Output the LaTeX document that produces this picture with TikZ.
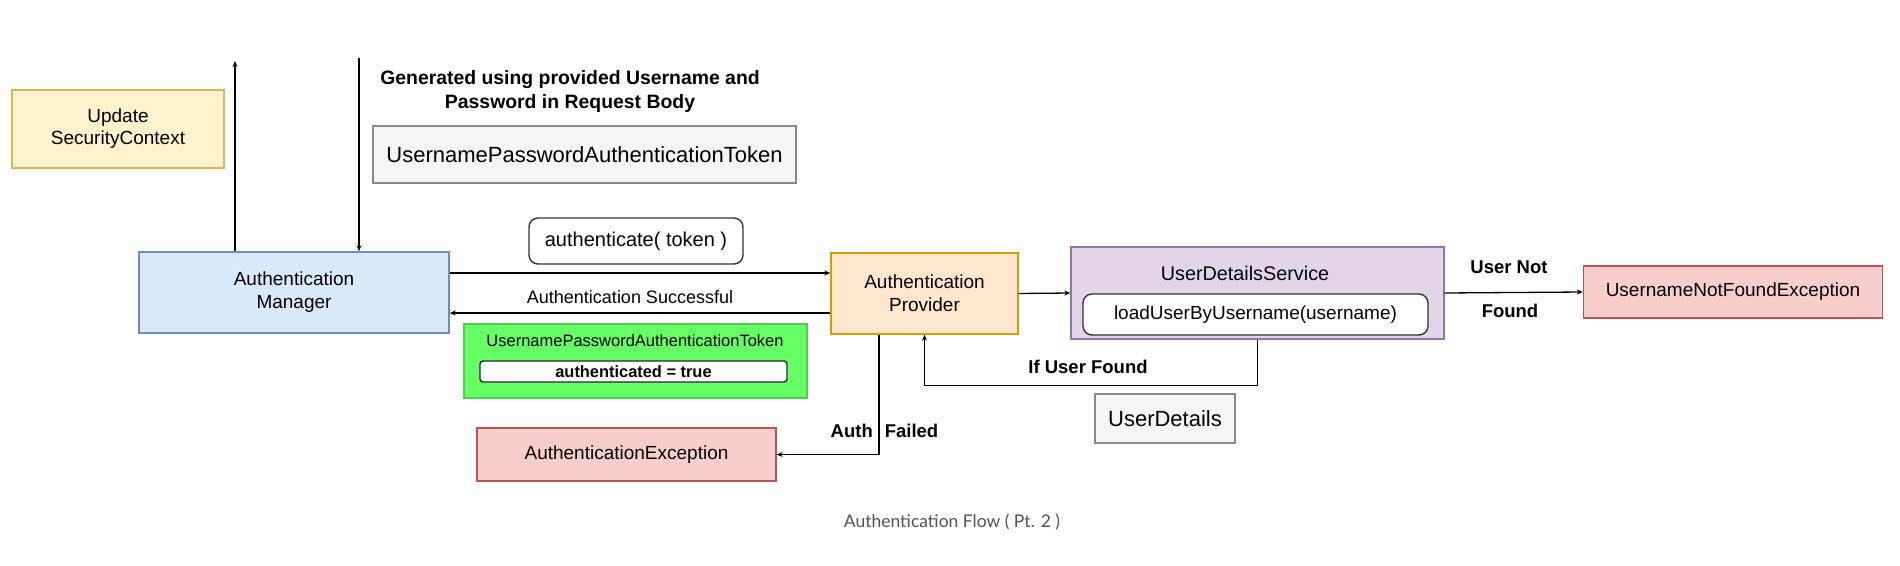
\documentclass[tikz,border=0pt]{standalone}
\usepackage{fontspec}
\setmainfont{Liberation Sans}
\newfontfamily\captionfont{Lato}
\usetikzlibrary{positioning,calc}
\usetikzlibrary{arrows.meta}

\definecolor{updfill}{HTML}{FFF2CC}
\definecolor{upddraw}{HTML}{D6B656}
\definecolor{mgrfill}{HTML}{DAE8FC}
\definecolor{mgrdraw}{HTML}{6C8EBF}
\definecolor{provfill}{HTML}{FFE6CC}
\definecolor{provdraw}{HTML}{D79B00}
\definecolor{udsfill}{HTML}{E1D5E7}
\definecolor{udsdraw}{HTML}{9673A6}
\definecolor{excfill}{HTML}{F8CECC}
\definecolor{excdraw}{HTML}{B85450}
\definecolor{tokfill}{HTML}{F5F5F5}
\definecolor{tokdraw}{HTML}{8A8A8A}
\definecolor{grnfill}{HTML}{66FF66}
\definecolor{grndraw}{HTML}{52CC52}

\tikzset{
   box/.style={draw, line width=1.4pt, inner sep=0pt, align=center,
      font=\fontsize{19}{23}\selectfont},
   flow/.style={line width=1.3pt, -{Stealth[length=6pt,width=5pt]}},
   lbl/.style={inner sep=0pt, align=center, font=\bfseries\fontsize{18.5}{24}\selectfont},
   txt/.style={inner sep=0pt, align=center, font=\fontsize{18}{22}\selectfont}
}

\begin{document}
\begin{tikzpicture}[x=1pt,y=-1pt]
   \useasboundingbox (0,0) rectangle (1900,565);

   % manager side
   \node[box, fill=updfill, draw=upddraw, minimum width=212pt, minimum height=78pt,
      font=\fontsize{19}{22}\selectfont] (upd) at (118,129) {Update\\SecurityContext};
   \node[box, fill=mgrfill, draw=mgrdraw, minimum width=310pt, minimum height=81pt]
      (mgr) at (294,292.5) {Authentication\\Manager};

   % token from request
   \node[lbl, font=\bfseries\fontsize{19.4}{24}\selectfont] (gen) at (570,91)
      {Generated using provided Username and\\Password in Request Body};
   \node[box, fill=tokfill, draw=tokdraw, minimum width=423pt, minimum height=57pt,
      font=\fontsize{22}{26}\selectfont] (tok) at (584.5,154.5) {UsernamePasswordAuthenticationToken};
   \node[box, rounded corners=9pt, fill=white, draw=black!80, minimum width=214pt,
      minimum height=46pt, font=\fontsize{20}{24}\selectfont] (call) at (636,241) {authenticate( token )};

   % provider and user details
   \node[box, fill=provfill, draw=provdraw, minimum width=187pt, minimum height=81pt]
      (prov) at (924.5,293.5) {Authentication\\Provider};
   \node[box, fill=udsfill, draw=udsdraw, minimum width=373pt, minimum height=92pt]
      (uds) at (1257.5,293) {};
   \node[txt, font=\fontsize{19.8}{23}\selectfont] (udstitle) at (1245,273) {UserDetailsService};
   \node[box, rounded corners=9pt, fill=white, draw=black!80, minimum width=345pt,
      minimum height=41pt] (load) at (1255.5,314.5) {loadUserByUsername(username)};
   \node[box, fill=tokfill, draw=tokdraw, minimum width=140pt, minimum height=49pt,
      font=\fontsize{22}{26}\selectfont] (ud) at (1165,418.5) {UserDetails};
   \node[box, fill=excfill, draw=excdraw, minimum width=299pt, minimum height=52pt]
      (unfe) at (1733,292) {UsernameNotFoundException};

   % authenticated token
   \node[box, fill=grnfill, draw=grndraw, minimum width=343pt, minimum height=74pt]
      (grn) at (635.5,361) {};
   \node[txt, font=\fontsize{16.5}{20}\selectfont] (grntitle) at (635,341) {UsernamePasswordAuthenticationToken};
   \node[box, rounded corners=3pt, fill=white, draw=black!85, minimum width=307pt,
      minimum height=21pt, font=\bfseries\fontsize{16.4}{20}\selectfont] (authd) at (633.5,371.5) {authenticated = true};
   \node[box, fill=excfill, draw=excdraw, minimum width=299pt, minimum height=53pt]
      (aexc) at (626.5,454.5) {AuthenticationException};

   % arrows
   \coordinate (ctxtop) at (235,61);
   \coordinate (reqtop) at (359,58);
   \draw[flow] (mgr.north -| ctxtop) -- (ctxtop);
   \draw[flow] (reqtop) -- (reqtop |- mgr.north);

   \coordinate (callin) at ($(mgr.east)+(0,-19.5)$);
   \coordinate (retout) at ($(prov.west)+(0,19.5)$);
   \draw[flow] (callin) -- (callin -| prov.west);
   \draw[flow] (retout) -- (retout -| mgr.east);
   \node[txt] (succ) at (630,297) {Authentication Successful};

   \draw[flow] (prov.east) -- (uds.west);
   \draw[flow] (uds.east) -- (unfe.west);
   \node[lbl] (nf1) at (1509,267) {User Not};
   \node[lbl] (nf2) at (1510,311) {Found};

   \draw[flow] (uds.south) -- ++(0,46) -| (prov.south);
   \node[lbl] (found) at (1088,367) {If User Found};

   \coordinate (failtop) at ($(prov.south)+(-45.5,0)$);
   \draw[flow] (failtop) |- (aexc.east);
   \node[lbl] (failed) at (884.5,431) {Auth\hspace{12pt}Failed};

   % caption
   \node[inner sep=0pt, text=black!68, font=\captionfont\fontsize{17.5}{20}\selectfont]
      (cap) at (952,522) {Authentication Flow ( Pt. 2 )};
\end{tikzpicture}
\end{document}
